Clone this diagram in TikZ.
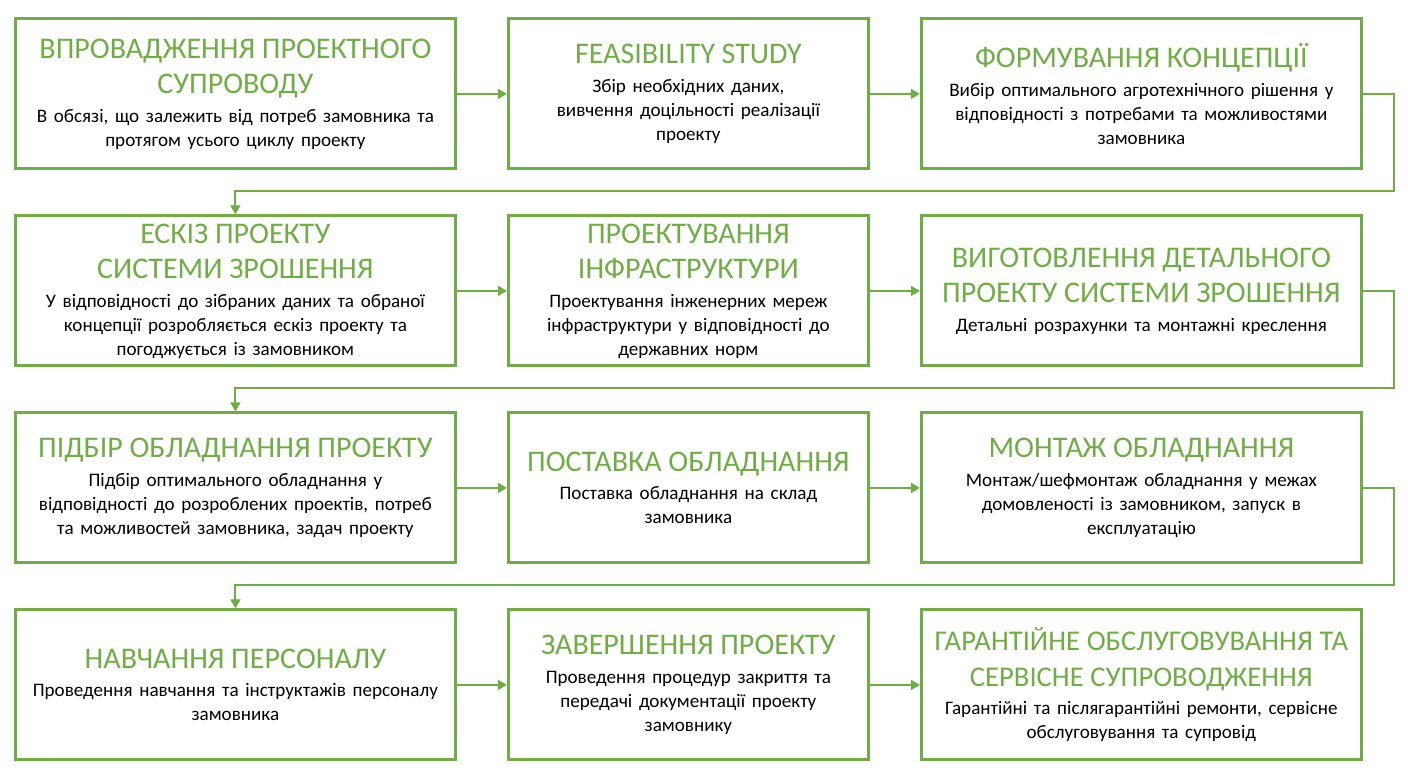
\documentclass[tikz,border=0pt]{standalone}
\usepackage{fontspec}
\setmainfont{Carlito}
\usetikzlibrary{matrix, arrows.meta}
\definecolor{stagegreen}{HTML}{70AD47}
\newcommand{\ttl}[2][15]{{\fontsize{#1}{17.6}\selectfont\color{stagegreen}#2\par}\vspace{2.4pt}}
\newcommand{\dsc}[1]{{\fontsize{9.55}{12}\selectfont #1\par}}
\tikzset{
  stage/.style={draw=stagegreen, line width=1.5pt, inner sep=0pt, anchor=center,
    minimum height=75pt, text width=#1, minimum width=#1, align=center},
  stage/.default=220pt,
  flow/.style={draw=stagegreen, line width=1pt, -{Triangle[length=4.5pt,width=5pt]}}
}
\begin{document}
\begin{tikzpicture}[x=0.5pt, y=-0.5pt]
\useasboundingbox (0,0) rectangle (1408,779);
\matrix (m) [column sep = 25pt, row sep = 22pt, inner sep = 0pt, anchor = north west] at (13.5,17) {
\node(s1)[stage]{\ttl{ВПРОВАДЖЕННЯ ПРОЕКТНОГО\\СУПРОВОДУ}\dsc{В обсязі, що залежить від потреб замовника та\\протягом усього циклу проекту}}; &
\node(s2)[stage=180pt]{\ttl{FEASIBILITY STUDY}\dsc{Збір необхідних даних,\\вивчення доцільності реалізації\\проекту}}; &
\node(s3)[stage]{\ttl{ФОРМУВАННЯ КОНЦЕПЦІЇ}\dsc{Вибір оптимального агротехнічного рішення у\\відповідності з потребами та можливостями\\замовника}}; \\
\node(s4)[stage]{\ttl{ЕСКІЗ ПРОЕКТУ\\СИСТЕМИ ЗРОШЕННЯ}\dsc{У відповідності до зібраних даних та обраної\\концепції розробляється ескіз проекту та\\погоджується із замовником}}; &
\node(s5)[stage=180pt]{\ttl{ПРОЕКТУВАННЯ\\ІНФРАСТРУКТУРИ}\dsc{Проектування інженерних мереж\\інфраструктури у відповідності до\\державних норм}}; &
\node(s6)[stage]{\ttl{ВИГОТОВЛЕННЯ ДЕТАЛЬНОГО\\ПРОЕКТУ СИСТЕМИ ЗРОШЕННЯ}\dsc{Детальні розрахунки та монтажні креслення}}; \\
\node(s7)[stage]{\ttl{ПІДБІР ОБЛАДНАННЯ ПРОЕКТУ}\dsc{Підбір оптимального обладнання у\\відповідності до розроблених проектів, потреб\\та можливостей замовника, задач проекту}}; &
\node(s8)[stage=180pt]{\ttl{ПОСТАВКА ОБЛАДНАННЯ}\dsc{Поставка обладнання на склад\\замовника}}; &
\node(s9)[stage]{\ttl{МОНТАЖ ОБЛАДНАННЯ}\dsc{Монтаж/шефмонтаж обладнання у межах\\домовленості із замовником, запуск в\\експлуатацію}}; \\
\node(s10)[stage]{\ttl{НАВЧАННЯ ПЕРСОНАЛУ}\dsc{Проведення навчання та інструктажів персоналу\\замовника}}; &
\node(s11)[stage=180pt]{\ttl{ЗАВЕРШЕННЯ ПРОЕКТУ}\dsc{Проведення процедур закриття та\\передачі документації проекту\\замовнику}}; &
\node(s12)[stage]{\ttl[14.3]{ГАРАНТІЙНЕ ОБСЛУГОВУВАННЯ ТА\\СЕРВІСНЕ СУПРОВОДЖЕННЯ}\dsc{Гарантійні та післягарантійні ремонти, сервісне\\обслуговування та супровід}}; \\
};
\draw[flow] (s1) -- (s2);
\draw[flow] (s2) -- (s3);
\draw[flow] (s3.east) -- ++(31,0) |- ([yshift=11.5pt]s4.north) -- (s4.north);
\draw[flow] (s4) -- (s5);
\draw[flow] (s5) -- (s6);
\draw[flow] (s6.east) -- ++(31,0) |- ([yshift=11.5pt]s7.north) -- (s7.north);
\draw[flow] (s7) -- (s8);
\draw[flow] (s8) -- (s9);
\draw[flow] (s9.east) -- ++(31,0) |- ([yshift=11.5pt]s10.north) -- (s10.north);
\draw[flow] (s10) -- (s11);
\draw[flow] (s11) -- (s12);
\end{tikzpicture}
\end{document}
